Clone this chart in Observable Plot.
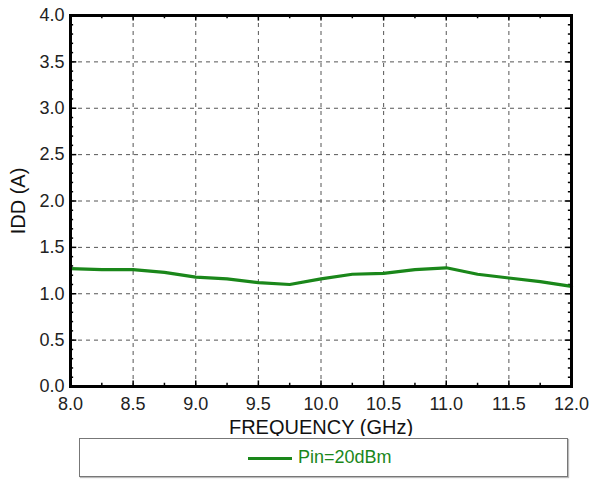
<!DOCTYPE html>
<html>
<head>
<meta charset="utf-8">
<script src="https://cdn.jsdelivr.net/npm/d3@7"></script>
<script src="https://cdn.jsdelivr.net/npm/@observablehq/plot@0.6"></script>
<style>
  html, body { margin: 0; padding: 0; background: #fff; }
  body { width: 598px; height: 479px; overflow: hidden; font-family: "Liberation Sans", Arial, sans-serif; }
  #legend {
    position: absolute; left: 79px; top: 438px; width: 489px; height: 39px;
    border: 1px solid #777; box-sizing: border-box; box-shadow: 1px 1px 1px #bbb;
  }
  #legend .sw { position: absolute; left: 168px; top: 18px; width: 44px; height: 3px; background: #1a871a; }
  #legend .tx { position: absolute; left: 218px; top: 8px; font-size: 18px; color: #1a871a; }
</style>
</head>
<body>
<div id="chart"></div>
<div id="legend"><div class="sw"></div><div class="tx">Pin=20dBm</div></div>
<script>
const freq = [8.0, 8.25, 8.5, 8.75, 9.0, 9.25, 9.5, 9.75, 10.0, 10.25, 10.5, 10.75, 11.0, 11.25, 11.5, 11.75, 12.0];
const idd  = [1.27, 1.26, 1.26, 1.23, 1.18, 1.16, 1.12, 1.10, 1.16, 1.21, 1.22, 1.26, 1.28, 1.21, 1.17, 1.13, 1.08];
const xTicks = [8.0, 8.5, 9.0, 9.5, 10.0, 10.5, 11.0, 11.5, 12.0];
const yTicks = [0.0, 0.5, 1.0, 1.5, 2.0, 2.5, 3.0, 3.5, 4.0];
const xMinor = [8.25, 8.75, 9.25, 9.75, 10.25, 10.75, 11.25, 11.75];
const yMinor = [0.1,0.2,0.3,0.4,0.6,0.7,0.8,0.9,1.1,1.2,1.3,1.4,1.6,1.7,1.8,1.9,2.1,2.2,2.3,2.4,2.6,2.7,2.8,2.9,3.1,3.2,3.3,3.4,3.6,3.7,3.8,3.9];
const seriesName = "Pin=20dBm";
const xLabel = "FREQUENCY (GHz)";
const yLabel = "IDD (A)";

const data = freq.map((f, i) => ({f, v: idd[i]}));
const green = "#1a871a";

const plot = Plot.plot({
  width: 598,
  height: 436,
  marginLeft: 70,
  marginRight: 27,
  marginTop: 15,
  marginBottom: 50,
  style: {fontFamily: "Liberation Sans, Arial, sans-serif", background: "#fff"},
  x: {domain: [8, 12]},
  y: {domain: [0, 4]},
  marks: [
    Plot.gridX(xTicks.slice(1, -1), {stroke: "#555", strokeOpacity: 1, strokeWidth: 1, strokeDasharray: "4,4"}),
    Plot.gridY(yTicks.slice(1, -1), {stroke: "#555", strokeOpacity: 1, strokeWidth: 1, strokeDasharray: "4,4"}),
    Plot.ruleX(xTicks, {y1: 0, y2: 0.06, stroke: "#000", strokeWidth: 1.5}),
    Plot.ruleX(xTicks, {y1: 4, y2: 3.94, stroke: "#000", strokeWidth: 1.5}),
    Plot.ruleX(xMinor, {y1: 0, y2: 0.035, stroke: "#000", strokeWidth: 1.5}),
    Plot.ruleX(xMinor, {y1: 4, y2: 3.965, stroke: "#000", strokeWidth: 1.5}),
    Plot.ruleY(yTicks, {x1: 8, x2: 8.05, stroke: "#000", strokeWidth: 1.5}),
    Plot.ruleY(yTicks, {x1: 12, x2: 11.95, stroke: "#000", strokeWidth: 1.5}),
    Plot.ruleY(yMinor, {x1: 8, x2: 8.025, stroke: "#000", strokeWidth: 1.5}),
    Plot.ruleY(yMinor, {x1: 12, x2: 11.975, stroke: "#000", strokeWidth: 1.5}),
    Plot.lineY(data, {x: "f", y: "v", stroke: green, strokeWidth: 3.2}),
    Plot.frame({stroke: "#000", strokeWidth: 3}),
    Plot.axisX(xTicks, {tickSize: 0, tickPadding: 11, tickFormat: d => d.toFixed(1), fontSize: 18, fill: "#222",
      label: xLabel, labelAnchor: "center", labelArrow: "none", labelOffset: 47}),
    Plot.axisY(yTicks, {tickSize: 0, tickPadding: 6, tickFormat: d => d.toFixed(1), fontSize: 18, fill: "#222",
      label: yLabel, labelAnchor: "center", labelArrow: "none", labelOffset: 60})
  ]
});
document.getElementById("chart").appendChild(plot);
d3.select(plot).selectAll("g[aria-label='x-axis label'] text, g[aria-label='y-axis label'] text")
  .style("font-size", "20px").attr("fill", "#111");
</script>
</body>
</html>
